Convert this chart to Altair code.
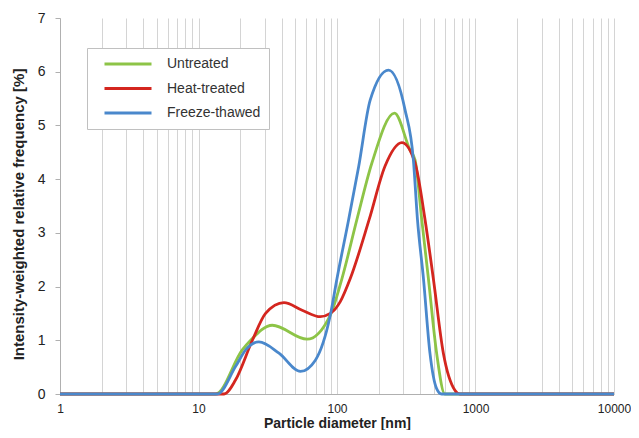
import altair as alt
import pandas as pd

# ---- data ----
series_names = ["Untreated", "Heat-treated", "Freeze-thawed"]
series_colors = ["#8DC447", "#D4261F", "#4A88CC"]

untreated_d = [1, 13.3, 20.7, 23.8, 34.1, 60.8, 89.5, 108.6, 139.3, 178.6, 260, 337, 366, 409, 457, 524, 601, 10000]
untreated_v = [0, 0, 0.82, 1.0, 1.28, 1.02, 1.47, 2.15, 3.25, 4.30, 5.23, 4.54, 4.36, 3.25, 2.15, 0.76, 0, 0]

heat_d = [1, 15.3, 18.5, 24.5, 30.5, 41.4, 56.0, 75.8, 89.5, 105.6, 124.7, 170.8, 222, 294, 366, 432, 496, 586, 710, 771, 10000]
heat_v = [0, 0, 0.26, 1.0, 1.5, 1.70, 1.56, 1.44, 1.50, 1.72, 2.15, 3.25, 4.24, 4.68, 4.30, 3.25, 2.15, 0.76, 0.07, 0, 0]

freeze_d = [1, 13.7, 18.5, 21.9, 27.3, 38.1, 54.5, 69.8, 89.5, 100, 121.4, 143.3, 173.6, 235.4, 310, 356, 381, 421, 469, 524, 569, 10000]
freeze_v = [0, 0, 0.51, 0.82, 0.97, 0.76, 0.42, 0.63, 1.47, 2.15, 3.25, 4.23, 5.47, 6.03, 5.29, 4.36, 3.25, 2.15, 0.76, 0.1, 0, 0]

x_tick_values = [m * 10 ** k for k in range(4) for m in range(1, 10)] + [10000]
x_label_values = [1, 10, 100, 1000, 10000]
y_tick_values = [0, 1, 2, 3, 4, 5, 6, 7]

rows = []
for name, ds, vs, order in [
    ("Untreated", untreated_d, untreated_v, 2),
    ("Heat-treated", heat_d, heat_v, 0),
    ("Freeze-thawed", freeze_d, freeze_v, 1),
]:
    for d, v in zip(ds, vs):
        rows.append({"series": name, "d": d, "v": v, "draw": order})
df = pd.DataFrame(rows)

font = "Liberation Sans, Arial, sans-serif"
label_list = ",".join(str(v) for v in x_label_values)

chart = (
    alt.Chart(df)
    .mark_line(interpolate="monotone", strokeWidth=2.8)
    .encode(
        x=alt.X(
            "d:Q",
            scale=alt.Scale(type="log", domain=[1, 10000], nice=False),
            axis=alt.Axis(
                title="Particle diameter [nm]",
                values=x_tick_values,
                labelExpr=f"indexof([{label_list}], datum.value) >= 0 ? format(datum.value, 'd') : ''",
                grid=True,
                gridColor="#d4d4d4",
                gridWidth=1,
                ticks=False,
                domainColor="#b0b0b0",
                labelFontSize=12,
                labelColor="#222222",
                labelPadding=9,
                labelFlush=False,
                labelOverlap=False,
                titleFontSize=14,
                titleFontWeight="bold",
                titleColor="#222222",
                titlePadding=2,
            ),
        ),
        y=alt.Y(
            "v:Q",
            scale=alt.Scale(domain=[0, 7], nice=False),
            axis=alt.Axis(
                title="Intensity-weighted relative frequency [%]",
                values=y_tick_values,
                grid=False,
                tickSize=5,
                tickColor="#b0b0b0",
                domainColor="#b0b0b0",
                labelFontSize=14,
                labelColor="#222222",
                labelPadding=10,
                titleFontSize=15,
                titleFontWeight="bold",
                titleColor="#222222",
                titlePadding=11,
                titleY=196,
            ),
        ),
        color=alt.Color(
            "series:N",
            scale=alt.Scale(domain=series_names, range=series_colors),
            sort=series_names,
            legend=alt.Legend(
                title=None,
                orient="none",
                legendX=27,
                legendY=30,
                symbolType="stroke",
                symbolSize=2209,
                symbolStrokeWidth=3,
                clipHeight=16,
                padding=8,
                symbolOffset=8,
                labelOffset=14,
                rowPadding=8.5,
                labelFontSize=14,
                labelColor="#333333",
                labelFont=font,
                strokeColor="#c0c0c0",
                fillColor="white",
            ),
        ),
        order=alt.Order("draw:Q"),
        detail="series:N",
    )
    .properties(
        width=554,
        height=376,
        autosize=alt.AutoSizeParams(type="none"),
        padding={"left": 52, "top": 10, "right": 17, "bottom": 36},
    )
    .configure(font=font)
    .configure_view(stroke=None)
)

chart.save("out.html", embed_options={"renderer": "svg", "actions": False})
